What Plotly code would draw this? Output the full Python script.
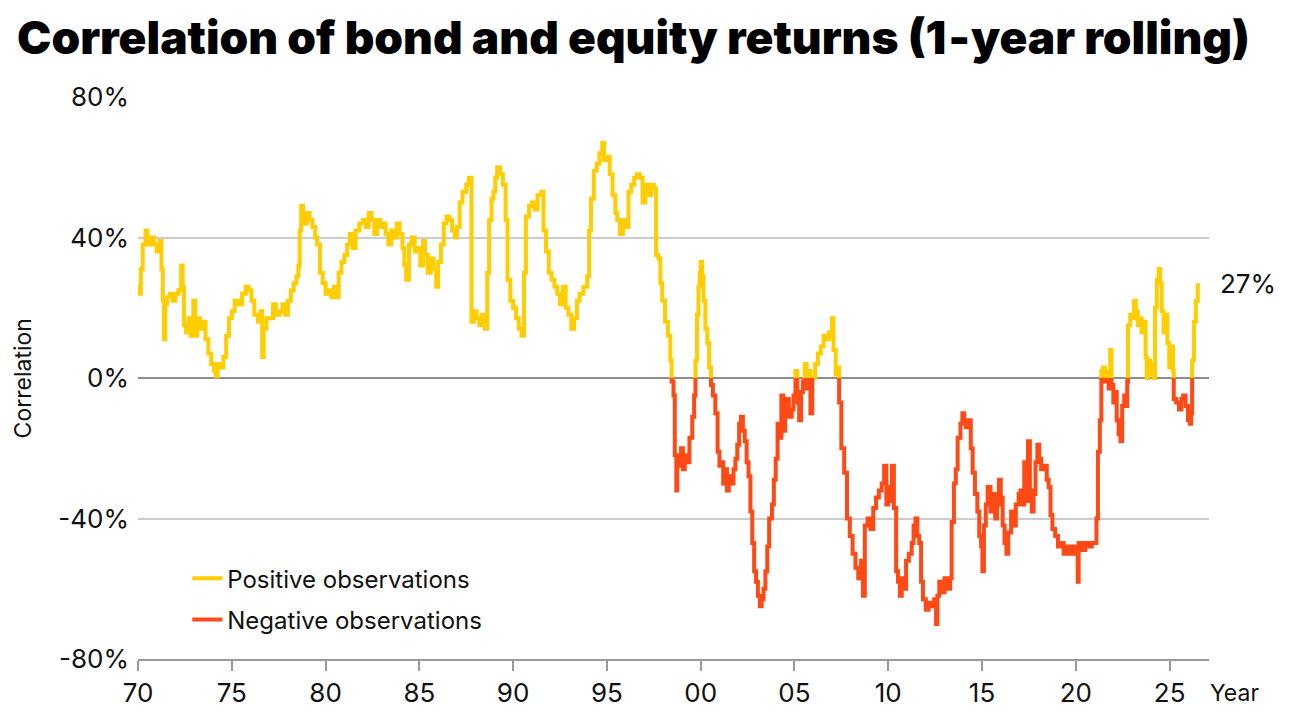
import plotly.graph_objects as go

# 1-year rolling correlation of bond and equity returns (%)
years = [
    1970.00, 1970.08, 1970.15, 1970.25, 1970.40, 1970.50, 1970.65, 1970.85, 1971.00, 1971.15,
    1971.25, 1971.32, 1971.38, 1971.45, 1971.55, 1971.70, 1971.85, 1972.00, 1972.15, 1972.30,
    1972.38, 1972.45, 1972.55, 1972.70, 1972.80, 1972.95, 1973.05, 1973.15, 1973.30, 1973.45,
    1973.60, 1973.75, 1973.90, 1974.05, 1974.15, 1974.25, 1974.40, 1974.55, 1974.70, 1974.85,
    1975.00, 1975.15, 1975.35, 1975.55, 1975.75, 1975.90, 1976.05, 1976.20, 1976.40, 1976.55,
    1976.62, 1976.70, 1976.85, 1977.05, 1977.20, 1977.35, 1977.55, 1977.70, 1977.85, 1978.00,
    1978.15, 1978.30, 1978.45, 1978.55, 1978.62, 1978.70, 1978.80, 1979.00, 1979.15, 1979.30,
    1979.45, 1979.55, 1979.70, 1979.85, 1980.00, 1980.15, 1980.30, 1980.45, 1980.55, 1980.70,
    1980.85, 1981.00, 1981.15, 1981.30, 1981.45, 1981.60, 1981.80, 1982.00, 1982.15, 1982.30,
    1982.45, 1982.60, 1982.75, 1982.90, 1983.05, 1983.20, 1983.35, 1983.50, 1983.65, 1983.80,
    1983.95, 1984.10, 1984.20, 1984.30, 1984.45, 1984.60, 1984.75, 1984.90, 1985.05, 1985.20,
    1985.30, 1985.45, 1985.60, 1985.75, 1985.90, 1986.00, 1986.15, 1986.30, 1986.45, 1986.60,
    1986.75, 1986.90, 1987.00, 1987.15, 1987.30, 1987.50, 1987.65, 1987.78, 1987.90, 1988.05,
    1988.20, 1988.35, 1988.50, 1988.62, 1988.72, 1988.85, 1988.95, 1989.05, 1989.15, 1989.30,
    1989.45, 1989.60, 1989.70, 1989.85, 1990.00, 1990.15, 1990.30, 1990.45, 1990.58, 1990.68,
    1990.85, 1991.00, 1991.15, 1991.30, 1991.50, 1991.62, 1991.75, 1991.90, 1992.05, 1992.20,
    1992.35, 1992.50, 1992.65, 1992.80, 1992.95, 1993.10, 1993.25, 1993.40, 1993.55, 1993.75,
    1993.95, 1994.05, 1994.15, 1994.30, 1994.45, 1994.60, 1994.75, 1994.85, 1995.00, 1995.15,
    1995.30, 1995.45, 1995.55, 1995.70, 1995.85, 1996.00, 1996.15, 1996.30, 1996.45, 1996.60,
    1996.75, 1996.90, 1997.05, 1997.20, 1997.35, 1997.50, 1997.62, 1997.75, 1997.85, 1997.95,
    1998.10, 1998.25, 1998.38, 1998.45, 1998.55, 1998.62, 1998.70, 1998.75, 1998.85, 1998.95,
    1999.05, 1999.15, 1999.30, 1999.40, 1999.55, 1999.65, 1999.72, 1999.80, 1999.88, 1999.95,
    2000.00, 2000.08, 2000.15, 2000.25, 2000.35, 2000.45, 2000.55, 2000.65, 2000.78, 2000.90,
    2001.00, 2001.10, 2001.20, 2001.30, 2001.40, 2001.50, 2001.65, 2001.75, 2001.85, 2001.95,
    2002.05, 2002.15, 2002.25, 2002.35, 2002.45, 2002.55, 2002.65, 2002.75, 2002.85, 2002.95,
    2003.05, 2003.15, 2003.25, 2003.35, 2003.45, 2003.55, 2003.65, 2003.80, 2003.90, 2004.00,
    2004.10, 2004.20, 2004.30, 2004.40, 2004.50, 2004.60, 2004.70, 2004.85, 2004.95, 2005.05,
    2005.15, 2005.25, 2005.35, 2005.45, 2005.55, 2005.65, 2005.75, 2005.85, 2005.95, 2006.10,
    2006.25, 2006.40, 2006.55, 2006.70, 2006.85, 2007.00, 2007.08, 2007.20, 2007.30, 2007.38,
    2007.50, 2007.65, 2007.80, 2007.95, 2008.10, 2008.25, 2008.40, 2008.55, 2008.65, 2008.75,
    2008.90, 2009.05, 2009.20, 2009.35, 2009.50, 2009.65, 2009.78, 2009.90, 2010.00, 2010.10,
    2010.20, 2010.30, 2010.42, 2010.52, 2010.62, 2010.72, 2010.85, 2010.95, 2011.10, 2011.25,
    2011.35, 2011.45, 2011.55, 2011.65, 2011.75, 2011.85, 2012.00, 2012.15, 2012.30, 2012.45,
    2012.55, 2012.62, 2012.72, 2012.85, 2013.00, 2013.15, 2013.30, 2013.38, 2013.50, 2013.60,
    2013.70, 2013.85, 2013.95, 2014.05, 2014.15, 2014.30, 2014.40, 2014.50, 2014.62, 2014.75,
    2014.85, 2014.95, 2015.02, 2015.10, 2015.20, 2015.30, 2015.45, 2015.55, 2015.70, 2015.80,
    2015.90, 2016.00, 2016.10, 2016.20, 2016.30, 2016.40, 2016.55, 2016.65, 2016.80, 2016.95,
    2017.05, 2017.15, 2017.25, 2017.35, 2017.45, 2017.55, 2017.65, 2017.75, 2017.85, 2017.95,
    2018.05, 2018.15, 2018.30, 2018.45, 2018.55, 2018.65, 2018.75, 2018.90, 2019.05, 2019.20,
    2019.35, 2019.50, 2019.62, 2019.80, 2019.95, 2020.10, 2020.15, 2020.30, 2020.50, 2020.70,
    2020.85, 2021.00, 2021.10, 2021.18, 2021.28, 2021.36, 2021.45, 2021.55, 2021.65, 2021.75,
    2021.83, 2021.90, 2022.00, 2022.10, 2022.18, 2022.28, 2022.38, 2022.47, 2022.58, 2022.68,
    2022.74, 2022.78, 2022.90, 2023.00, 2023.10, 2023.20, 2023.30, 2023.40, 2023.50, 2023.62,
    2023.72, 2023.78, 2023.85, 2023.95, 2024.05, 2024.15, 2024.22, 2024.32, 2024.42, 2024.50,
    2024.58, 2024.68, 2024.78, 2024.88, 2024.98, 2025.08, 2025.18, 2025.22, 2025.35, 2025.50,
    2025.62, 2025.72, 2025.85, 2025.98, 2026.08, 2026.15, 2026.20, 2026.30, 2026.40, 2026.50,
]
correlation = [
    26, 24, 31, 38, 42, 38, 40, 38, 36, 39,
    31, 22, 11, 21, 23, 24, 22, 24, 25, 32,
    26, 15, 13, 17, 12, 22, 12, 17, 14, 16,
    11, 7, 4, 2, 0.5, 4, 3, 6, 12, 17,
    19, 22, 21, 24, 26, 25, 22, 18, 16, 19,
    6, 14, 17, 17, 21, 18, 19, 21, 18, 22,
    25, 27, 29, 32, 42, 49, 44, 47, 45, 43,
    40, 38, 30, 27, 24, 25, 23, 26, 23, 30,
    33, 35, 38, 41, 37, 42, 44, 45, 43, 47,
    45, 41, 45, 43, 44, 41, 38, 42, 40, 44,
    41, 37, 32, 28, 38, 40, 36, 37, 32, 39,
    35, 30, 34, 31, 26, 33, 38, 44, 46, 45,
    42, 40, 43, 50, 53, 55, 57, 16, 19, 17,
    15, 18, 14, 30, 45, 51, 53, 57, 60, 58,
    55, 45, 28, 22, 20, 17, 14, 12, 30, 46,
    49, 50, 48, 52, 53, 42, 36, 30, 28, 26,
    24, 21, 26, 20, 18, 14, 17, 22, 24, 26,
    29, 42, 51, 59, 61, 64, 67, 62, 63, 58,
    52, 47, 45, 41, 45, 43, 53, 55, 57, 58,
    57, 50, 55, 52, 55, 54, 35, 34, 27, 22,
    16, 12, 5, -1, -5, -22, -32, -22, -25, -20,
    -26, -22, -24, -17, -11, -5, 5, 18, 26, 30,
    33, 29, 22, 14, 10, 3, -2, -5, -10, -21,
    -25, -24, -30, -26, -32, -28, -30, -26, -23, -19,
    -13, -11, -15, -18, -24, -28, -38, -47, -55, -58,
    -62, -65, -63, -60, -55, -48, -40, -36, -29, -23,
    -13, -17, -5, -15, -10, -6, -11, -9, -5, 2,
    -7, -12, -4, -1, 4, -3, 2, -10, 0, 4,
    7, 9, 12, 11, 13, 17, 8, 1, 3, -7,
    -20, -27, -40, -45, -50, -54, -57, -52, -62, -42,
    -40, -43, -37, -34, -32, -30, -25, -36, -31, -35,
    -25, -37, -55, -58, -62, -57, -60, -52, -50, -47,
    -42, -40, -45, -47, -58, -63, -66, -64, -65, -63,
    -70, -62, -58, -61, -57, -60, -57, -41, -30, -26,
    -17, -13, -10, -12, -14, -12, -20, -27, -33, -38,
    -45, -48, -55, -42, -36, -31, -38, -33, -40, -36,
    -29, -34, -42, -47, -50, -44, -38, -42, -36, -33,
    -32, -36, -24, -35, -18, -32, -38, -33, -24, -19,
    -23, -26, -25, -29, -31, -39, -43, -45, -48, -47,
    -50, -48, -50, -48, -50, -58, -47, -49, -47, -48,
    -47, -47, -40, -21, -12, 2, 3, -1, 2, -3,
    8, -2, -7, -4, -12, -16, -18, -8, -5, -8,
    -1, 15, 18, 17, 22, 19, 15, 17, 13, 16,
    6, 0, 5, 1, 4, 0, 20, 28, 31, 27,
    19, 13, 18, 10, 3, 9, 2, -6, -7, -9,
    -6, -5, -8, -12, -13, -10, 5, 16, 22, 27,
]

tick_years = [1970, 1975, 1980, 1985, 1990, 1995, 2000, 2005, 2010, 2015, 2020, 2025]
tick_labels = ["70", "75", "80", "85", "90", "95", "00", "05", "10", "15", "20", "25"]
y_ticks = [-80, -40, 0, 40, 80]
y_tick_labels = ["-80%", "-40%", "0%", "40%", "80%"]
latest_label = "27%"

YELLOW = "#FFCD00"
RED = "#FF4A16"
FONT = "Inter"


def split_by_sign(xs, vs):
    # separate the step line into positive and negative runs, joined at zero
    pos_x, pos_y, neg_x, neg_y = [], [], [], []
    prev_pos = None
    for x, v in zip(xs, vs):
        is_pos = v >= 0
        if prev_pos is not None and is_pos != prev_pos:
            old_x, old_y = (pos_x, pos_y) if prev_pos else (neg_x, neg_y)
            new_x, new_y = (pos_x, pos_y) if is_pos else (neg_x, neg_y)
            old_x += [x, x]
            old_y += [0, None]
            new_x.append(x)
            new_y.append(0)
        tx, ty = (pos_x, pos_y) if is_pos else (neg_x, neg_y)
        tx.append(x)
        ty.append(v)
        prev_pos = is_pos
    return pos_x, pos_y, neg_x, neg_y


pos_x, pos_y, neg_x, neg_y = split_by_sign(years, correlation)

fig = go.Figure()
fig.add_trace(go.Scatter(
    x=pos_x, y=pos_y, mode="lines", name="Positive observations",
    line=dict(color=YELLOW, width=4, shape="hv"), legendgroup="pos",
))
fig.add_trace(go.Scatter(
    x=neg_x, y=neg_y, mode="lines", name="Negative observations",
    line=dict(color=RED, width=4, shape="hv"), legendgroup="neg",
))

# the page adds an 8px body margin, so margins are shifted by that
fig.update_layout(
    width=1292, height=719,
    margin=dict(l=130, r=91, t=89, b=68),
    paper_bgcolor="white", plot_bgcolor="white",
    font=dict(family=FONT, color="#111111", size=25),
    title=dict(
        text="Correlation of bond and equity returns (1‑year rolling)",
        font=dict(family=FONT, size=46, color="black", weight=900),
        xref="container", yref="container", x=0.007, y=0.958,
        xanchor="left", yanchor="middle",
    ),
    showlegend=True,
    legend=dict(
        x=0.046, y=0.183, xanchor="left", yanchor="top",
        font=dict(size=24), bgcolor="rgba(0,0,0,0)",
        traceorder="grouped", tracegroupgap=7,
    ),
    xaxis=dict(
        range=[1970, 2027.1], tickvals=tick_years, ticktext=tick_labels,
        showgrid=False, zeroline=False, showline=True, linecolor="#9a9a9a",
        linewidth=2, ticks="outside", ticklen=10, tickwidth=2,
        tickcolor="#9a9a9a", tickfont=dict(size=26),
    ),
    yaxis=dict(
        range=[-80, 80], tickvals=y_ticks, ticktext=y_tick_labels,
        showgrid=True, gridcolor="#cccccc", gridwidth=2,
        zeroline=True, zerolinecolor="#8c8c8c", zerolinewidth=2,
        tickfont=dict(size=26), ticklabelstandoff=8,
    ),
    annotations=[
        dict(text="Correlation", xref="paper", yref="paper", x=-0.107, y=0.5,
             xanchor="center", yanchor="middle",
             textangle=-90, showarrow=False, font=dict(size=23)),
        dict(text="Year", xref="paper", yref="paper", x=0.999, y=-0.06,
             xanchor="left", yanchor="middle", showarrow=False, font=dict(size=23)),
        dict(text=latest_label, xref="paper", yref="y", x=1.008, y=correlation[-1],
             xanchor="left", yanchor="middle", showarrow=False, font=dict(size=26)),
    ],
)

fig.write_html("out.html")
